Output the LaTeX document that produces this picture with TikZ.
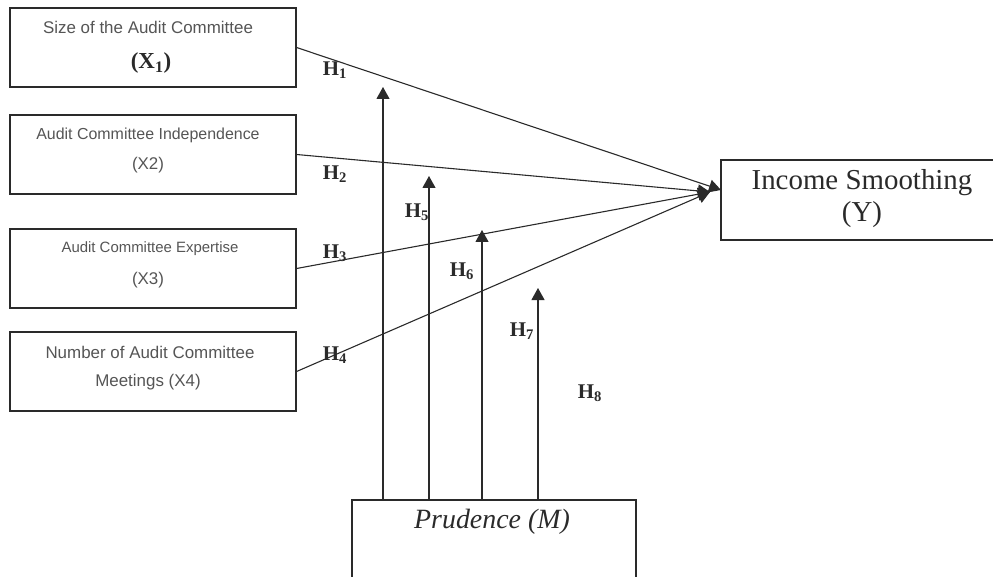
\documentclass[tikz,border=0pt]{standalone}
\usepackage{fontspec}
\setmainfont{Liberation Serif}
\newfontfamily\arialf{Liberation Sans}
\usetikzlibrary{arrows.meta,calc}
\definecolor{ink}{HTML}{2A2A2A}
\definecolor{greytxt}{HTML}{555555}
\begin{document}
\begin{tikzpicture}[x=1bp,y=-1bp,
  varbox/.style={draw=ink,line width=1.2bp,rectangle,minimum width=286bp,minimum height=79bp,inner sep=0pt},
  conn/.style={draw=ink,line width=1.1bp,-{Triangle[width=13bp,length=12bp]}},
  hlab/.style={font=\fontsize{21}{22}\selectfont\bfseries,text=ink,inner sep=0pt},
  sanslab/.style={font=\arialf\fontsize{#1}{#1}\selectfont,text=greytxt,inner sep=0pt}]
\useasboundingbox (0,0) rectangle (993,577);
% left boxes
\node[varbox] (x1) at (153,47.5) {};
\node[varbox] (x2) at (153,154.5) {};
\node[varbox] (x3) at (153,268.5) {};
\node[varbox] (x4) at (153,371.5) {};
\node[sanslab=17] (x1a) at (148,27) {Size of the Audit Committee};
\node[font=\fontsize{23}{24}\selectfont\bfseries,text=ink,inner sep=0pt] (x1b) at (151,63) {(X\textsubscript{1})};
\node[sanslab=16] (x2a) at (148,135) {Audit Committee Independence};
\node[sanslab=17] (x2b) at (148,165) {(X2)};
\node[sanslab=15] (x3a) at (150,249) {Audit Committee Expertise};
\node[sanslab=17] (x3b) at (148,280) {(X3)};
\node[sanslab=17] (x4a) at (150,352) {Number of Audit Committee};
\node[sanslab=17] (x4b) at (148,382) {Meetings (X4)};
% dependent
\node[draw=ink,line width=1.2bp,rectangle,minimum width=300bp,minimum height=80bp,inner sep=0pt] (y) at (871,200) {};
\node[font=\fontsize{29}{33}\selectfont,text=ink,align=center,inner sep=0pt] (ytxt) at (862,198.5) {Income Smoothing\\(Y)};
% moderator
\node[draw=ink,line width=1.2bp,rectangle,minimum width=284bp,minimum height=100bp,inner sep=0pt] (m) at (494,550) {};
\node[font=\fontsize{28}{30}\selectfont\itshape,text=ink,inner sep=0pt] (mtxt) at (492,522) {Prudence (M)};
% convergence points
\coordinate (tipa) at (721,190);
\coordinate (tipb) at (710,192);
\draw[conn] (x1.east) -- (tipa);
\draw[conn] (x2.east) -- (tipb);
\draw[conn] (x3.east) -- (tipb);
\draw[conn] (x4.east) -- (tipb);
% moderating arrows
\coordinate (t1) at (383,87);
\coordinate (t2) at (429,176);
\coordinate (t3) at (482,230);
\coordinate (t4) at (538,288);
\draw[conn] (m.north -| t1) -- (t1);
\draw[conn] (m.north -| t2) -- (t2);
\draw[conn] (m.north -| t3) -- (t3);
\draw[conn] (m.north -| t4) -- (t4);
% hypothesis labels
\node[hlab] (h1) at (335,70) {H\textsubscript{1}};
\node[hlab] (h2) at (335,174) {H\textsubscript{2}};
\node[hlab] (h3) at (335,253) {H\textsubscript{3}};
\node[hlab] (h4) at (335,355) {H\textsubscript{4}};
\node[hlab] (h5) at (417,212) {H\textsubscript{5}};
\node[hlab] (h6) at (462,271) {H\textsubscript{6}};
\node[hlab] (h7) at (522,331) {H\textsubscript{7}};
\node[hlab] (h8) at (590,393) {H\textsubscript{8}};
\end{tikzpicture}
\end{document}
